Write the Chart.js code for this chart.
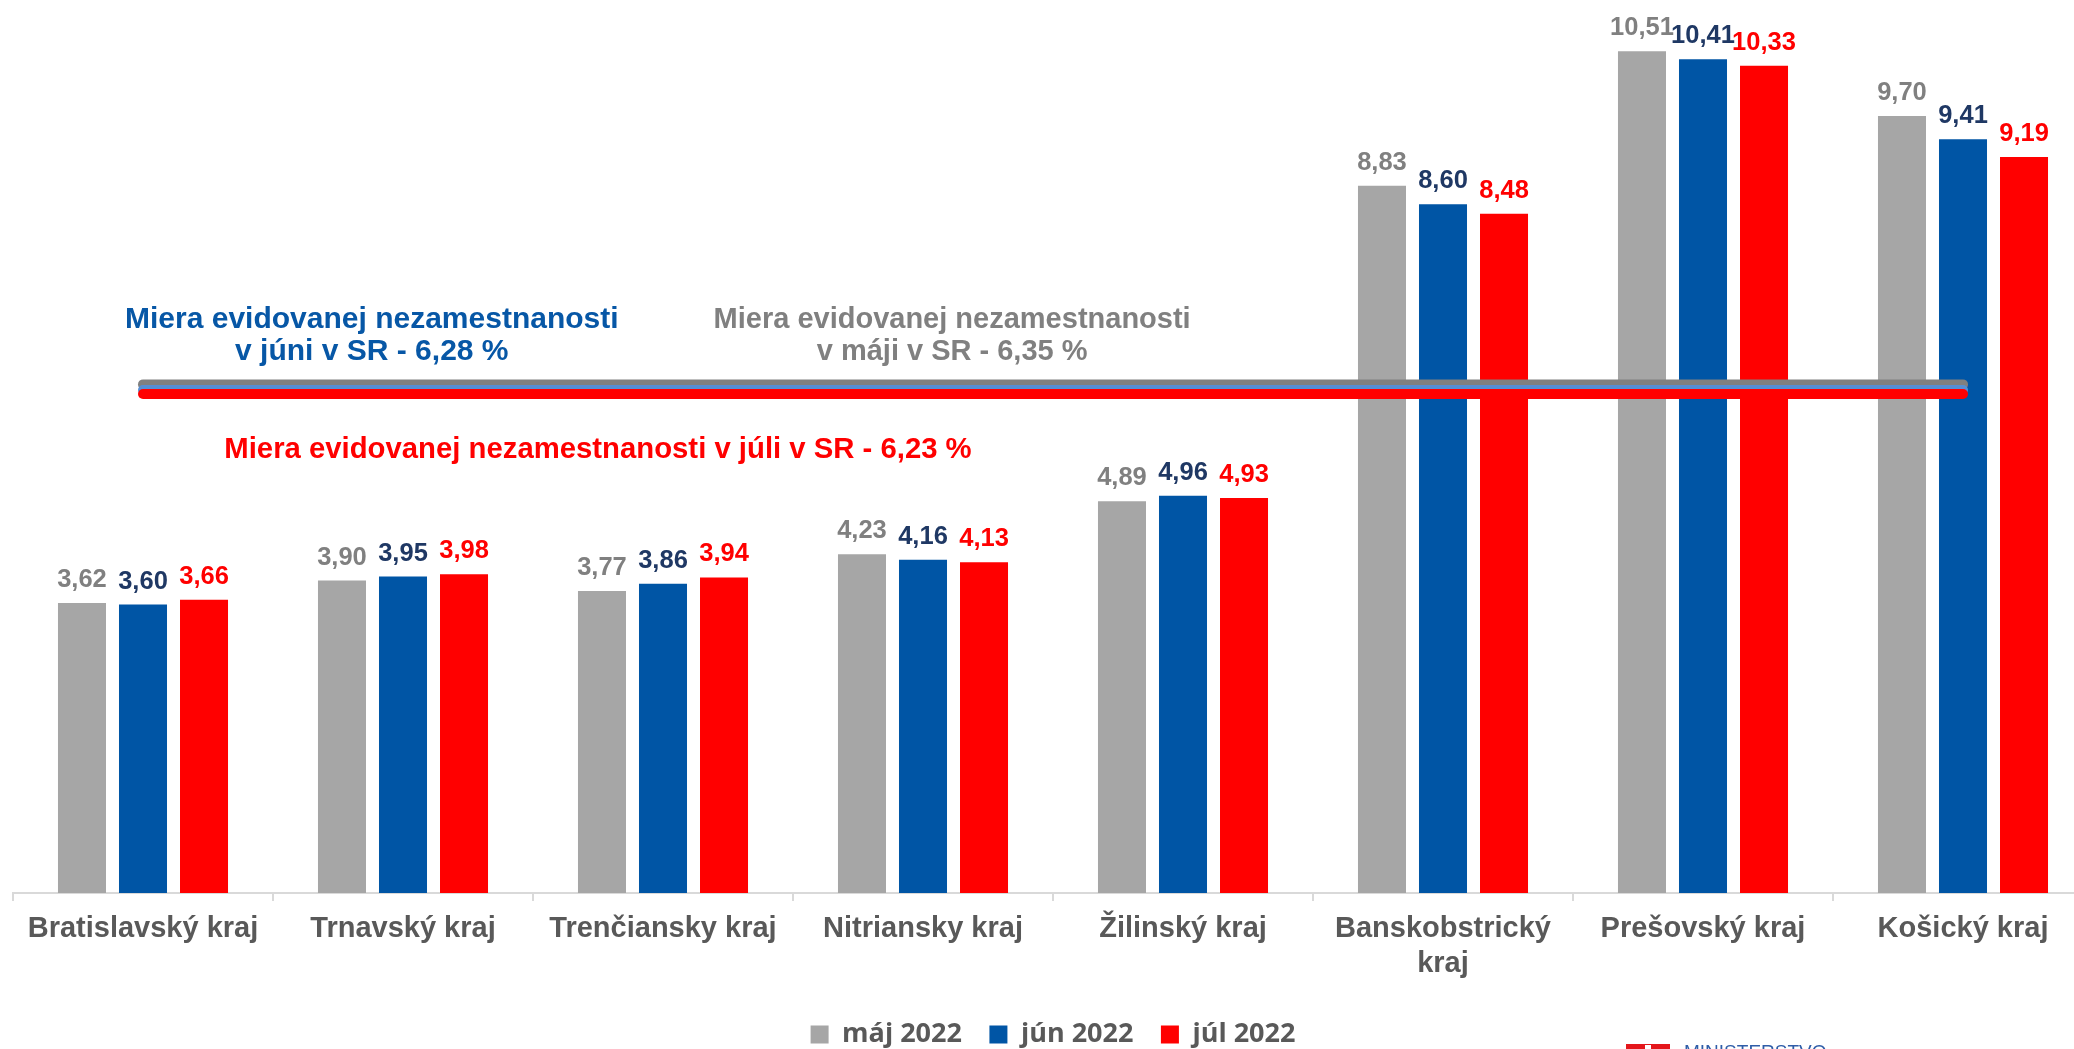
<!DOCTYPE html>
<html>
<head>
<meta charset="utf-8">
<script src="https://cdn.jsdelivr.net/npm/chart.js@4.4.0/dist/chart.umd.min.js"></script>
<style>
  html, body { margin: 0; padding: 0; overflow: hidden; background: #ffffff; width: 2074px; height: 1049px; }
  #wrap { position: absolute; left: 0; top: 0; width: 2094px; height: 1058px; }
  #logo { position: absolute; left: 1626px; top: 1042px; height: 40px; width: 260px; }
  #logo .box { position: absolute; left: 0; top: 2px; width: 44px; height: 30px; background: #E4161B; }
  #logo .box i { position: absolute; left: 19px; top: 1px; width: 6px; height: 20px; background: #ffffff; }
  #logo .txt { position: absolute; left: 58px; top: 0; font: 19px/19px "Liberation Sans", Arial, sans-serif; color: #2F5DA8; white-space: nowrap; }
</style>
</head>
<body>
<div id="wrap"><canvas id="chart"></canvas></div>
<div id="logo"><span class="box"><i></i></span><span class="txt">MINISTERSTVO</span></div>
<script>
// ---- data ----
const categories = [
  'Bratislavský kraj',
  'Trnavský kraj',
  'Trenčiansky kraj',
  'Nitriansky kraj',
  'Žilinský kraj',
  ['Banskobstrický', 'kraj'],
  'Prešovský kraj',
  'Košický kraj'
];
const seriesNames = ['máj 2022', 'jún 2022', 'júl 2022'];
const mayValues  = [3.62, 3.90, 3.77, 4.23, 4.89, 8.83, 10.51, 9.70];
const juneValues = [3.60, 3.95, 3.86, 4.16, 4.96, 8.60, 10.41, 9.41];
const julyValues = [3.66, 3.98, 3.94, 4.13, 4.93, 8.48, 10.33, 9.19];
// national (SR) rates shown as horizontal lines: máj, jún, júl
const srRates = [6.35, 6.28, 6.23];
const srMonthWords = ['máji', 'júni', 'júli'];

const fmt = v => v.toFixed(2).replace('.', ',');

// ---- styles ----
const barColors   = ['#A6A6A6', '#0055A5', '#FF0000'];
const labelColors = ['#808080', '#1F3864', '#FF0000'];
const lineColors  = ['#808080', '#558ED5', '#FF0000'];
const noteColors  = ['#808080', '#0757A6', '#FF0000'];

const barSets = [mayValues, juneValues, julyValues].map((vals, i) => ({
  type: 'bar',
  label: seriesNames[i],
  data: vals,
  backgroundColor: barColors[i],
  borderWidth: 0,
  categoryPercentage: 0.704,
  barPercentage: 0.787,
  order: 10
}));

const lineSets = srRates.map((r, i) => ({
  type: 'line',
  label: 'SR ' + srMonthWords[i],
  data: categories.map(() => r),
  borderColor: lineColors[i],
  borderWidth: 10,
  borderCapStyle: 'round',
  pointRadius: 0,
  pointHoverRadius: 0,
  fill: false,
  order: 3 - i
}));

// annotation texts (built from the SR rates); positions in scale units
const notes = [
  { lines: ['Miera evidovanej nezamestnanosti', 'v ' + srMonthWords[1] + ' v SR - ' + fmt(srRates[1]) + ' %'], color: noteColors[1], x: 0.88, y: 7.05, size: 30 },
  { lines: ['Miera evidovanej nezamestnanosti', 'v ' + srMonthWords[0] + ' v SR - ' + fmt(srRates[0]) + ' %'], color: noteColors[0], x: 3.112, y: 7.05, size: 29 },
  { lines: ['Miera evidovanej nezamestnanosti v ' + srMonthWords[2] + ' v SR - ' + fmt(srRates[2]) + ' %'], color: noteColors[2], x: 1.75, y: 5.425, size: 29.3 }
];

const labelPlugin = {
  id: 'valueLabels',
  afterDatasetsDraw(chart) {
    const ctx = chart.ctx;
    ctx.save();
    ctx.textAlign = 'center';
    ctx.textBaseline = 'alphabetic';
    ctx.font = 'bold 25.5px "Liberation Sans", Arial, sans-serif';
    for (let d = 0; d < 3; d++) {
      const meta = chart.getDatasetMeta(d);
      ctx.fillStyle = labelColors[d];
      meta.data.forEach((el, i) => {
        ctx.fillText(fmt(chart.data.datasets[d].data[i]), el.x, el.y - 16);
      });
    }
    const xs = chart.scales.x, ys = chart.scales.y;
    notes.forEach(n => {
      ctx.font = 'bold ' + n.size + 'px "Liberation Sans", Arial, sans-serif';
      const px = xs.getPixelForValue(n.x);
      const py = ys.getPixelForValue(n.y);
      ctx.fillStyle = n.color;
      n.lines.forEach((t, k) => ctx.fillText(t, px, py + k * 32));
    });
    ctx.restore();
  }
};

new Chart(document.getElementById('chart'), {
  data: { labels: categories, datasets: [...barSets, ...lineSets] },
  options: {
    responsive: true,
    maintainAspectRatio: false,
    animation: false,
    events: [],
    layout: { padding: { top: 12, left: 13, right: 1, bottom: 0 } },
    scales: {
      x: {
        type: 'category',
        offset: true,
        grid: { display: true, offset: true, drawOnChartArea: false, drawTicks: true, tickLength: 8, color: '#D9D9D9', lineWidth: 2 },
        border: { display: true, color: '#D9D9D9', width: 2 },
        ticks: {
          color: '#595959',
          padding: 11,
          maxRotation: 0,
          autoSkip: false,
          font: { family: '"Liberation Sans", Arial, sans-serif', size: 29, weight: 'bold', lineHeight: 1.2 }
        },
        afterFit(scale) { scale.height += 1; }
      },
      y: { display: false, min: 0, max: 11 }
    },
    plugins: {
      tooltip: { enabled: false },
      title: { display: false },
      legend: {
        display: true,
        position: 'bottom',
        labels: {
          boxWidth: 18,
          boxHeight: 18,
          padding: 27.5,
          color: '#595959',
          font: { family: '"Open Sans", sans-serif', size: 27, weight: 'bold' },
          filter: item => item.datasetIndex < 3
        }
      }
    }
  },
  plugins: [labelPlugin]
});
</script>
</body>
</html>
